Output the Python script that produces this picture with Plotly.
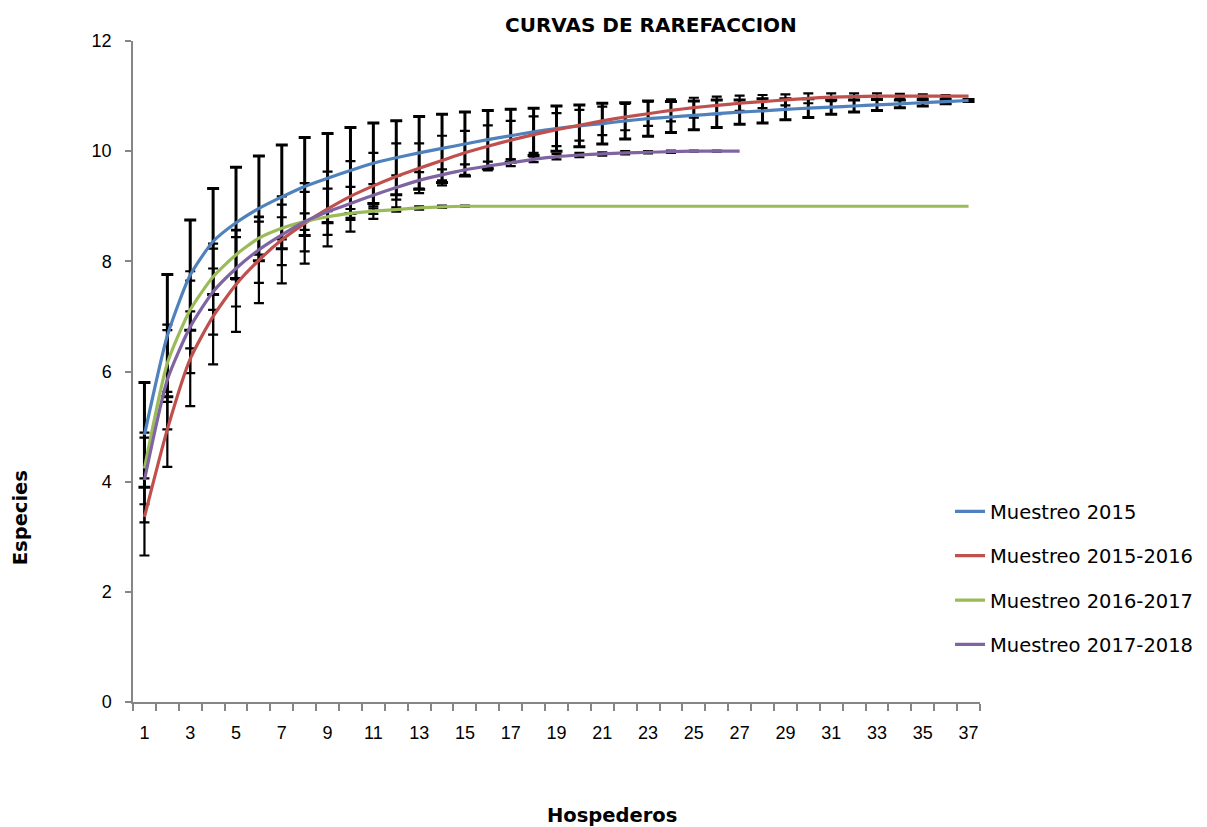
import plotly.graph_objects as go

# ---------------- data ----------------
hospederos = list(range(1, 38))
x_tick_labels = [str(i) for i in range(1, 38, 2)]
y_ticks = [0, 2, 4, 6, 8, 10, 12]

series_names = ["Muestreo 2015", "Muestreo 2015-2016", "Muestreo 2016-2017", "Muestreo 2017-2018"]

m2015 = [4.85, 6.65, 7.75, 8.36, 8.70, 8.96, 9.17, 9.36, 9.51, 9.65,
         9.78, 9.88, 9.97, 10.05, 10.13, 10.21, 10.28, 10.35, 10.41, 10.46,
         10.50, 10.55, 10.59, 10.62, 10.65, 10.68, 10.71, 10.73, 10.76, 10.78,
         10.80, 10.82, 10.84, 10.86, 10.88, 10.90, 10.92]
sd2015 = [0.95, 1.11, 1.00, 0.96, 1.01, 0.95, 0.94, 0.89, 0.81, 0.78,
          0.73, 0.67, 0.66, 0.62, 0.58, 0.53, 0.48, 0.43, 0.41, 0.38,
          0.37, 0.33, 0.32, 0.28, 0.26, 0.25, 0.22, 0.22, 0.19, 0.17,
          0.13, 0.11, 0.10, 0.07, 0.06, 0.04, 0.02]

m2015_16 = [3.36, 4.95, 6.23, 7.00, 7.58, 8.02, 8.39, 8.69, 8.95, 9.18,
            9.37, 9.54, 9.69, 9.83, 9.97, 10.09, 10.20, 10.30, 10.39, 10.47,
            10.55, 10.62, 10.68, 10.74, 10.79, 10.83, 10.87, 10.90, 10.93, 10.96,
            10.98, 10.99, 11.0, 11.0, 11.0, 11.0, 11.0]
sd2015_16 = [0.70, 0.68, 0.86, 0.87, 0.86, 0.78, 0.79, 0.73, 0.68, 0.64,
             0.60, 0.60, 0.45, 0.45, 0.40, 0.38, 0.35, 0.33, 0.30, 0.28,
             0.26, 0.24, 0.22, 0.20, 0.18, 0.16, 0.14, 0.12, 0.10, 0.09,
             0.07, 0.06, 0.05, 0.04, 0.03, 0.02, 0.0]

m2016_17 = [4.24, 6.15, 7.12, 7.72, 8.12, 8.42, 8.60, 8.72, 8.81, 8.87,
            8.91, 8.94, 8.97, 8.99, 9.0, 9.0, 9.0, 9.0, 9.0, 9.0,
            9.0, 9.0, 9.0, 9.0, 9.0, 9.0, 9.0, 9.0, 9.0, 9.0,
            9.0, 9.0, 9.0, 9.0, 9.0, 9.0, 9.0]
sd2016_17 = [0.65, 0.70, 0.70, 0.60, 0.45, 0.30, 0.20, 0.15, 0.10, 0.08,
             0.05, 0.04, 0.03, 0.02, 0.01, 0.0, 0.0, 0.0, 0.0, 0.0,
             0.0, 0.0, 0.0, 0.0, 0.0, 0.0, 0.0, 0.0, 0.0, 0.0,
             0.0, 0.0, 0.0, 0.0, 0.0, 0.0, 0.0]

m2017_18 = [4.03, 5.85, 6.81, 7.45, 7.87, 8.21, 8.48, 8.72, 8.90, 9.05,
            9.20, 9.34, 9.47, 9.57, 9.66, 9.73, 9.79, 9.85, 9.90, 9.93,
            9.95, 9.97, 9.98, 9.99, 10.0, 10.0, 10.0]
sd2017_18 = [0.77, 0.90, 0.84, 0.78, 0.69, 0.60, 0.55, 0.54, 0.42, 0.30,
             0.20, 0.22, 0.15, 0.10, 0.10, 0.08, 0.06, 0.05, 0.05, 0.04,
             0.03, 0.03, 0.02, 0.02, 0.01, 0.01, 0.0]

colors = ["#4F81BD", "#C0504D", "#9BBB59", "#8064A2"]
all_means = [m2015, m2015_16, m2016_17, m2017_18]
all_sds = [sd2015, sd2015_16, sd2016_17, sd2017_18]
bar_thickness = [3, 2.2, 2.2, 2.2]
bar_width = [6, 5, 5, 5]

fig = go.Figure()

# error bars (beneath the curves)
for means, sds, th, wd in zip(all_means, all_sds, bar_thickness, bar_width):
    xs = [h for h, s in zip(hospederos, sds) if s > 0]
    ys = [m for m, s in zip(means, sds) if s > 0]
    es = [s for s in sds if s > 0]
    fig.add_trace(go.Scatter(
        x=xs, y=ys, mode="markers",
        marker=dict(size=2, color="rgba(0,0,0,0)"),
        error_y=dict(type="data", array=es, visible=True, color="black",
                     thickness=th, width=wd),
        showlegend=False, hoverinfo="skip"))

# curves
for i, (name, means, col) in enumerate(zip(series_names, all_means, colors)):
    fig.add_trace(go.Scatter(
        x=hospederos[:len(means)], y=means, mode="lines", name=name,
        line=dict(color=col, width=3.2, shape="spline", smoothing=0.6),
        legendgroup=f"g{i}"))

axis_font = dict(family="Liberation Sans, Arial, sans-serif", size=18, color="#000000")

fig.update_layout(
    width=1207, height=827,
    margin=dict(l=133, r=227, t=41, b=125, autoexpand=False),
    paper_bgcolor="white", plot_bgcolor="white",
    showlegend=True,
    legend=dict(x=0.9646, y=0.3174, xanchor="left", yanchor="top",
                font=dict(family="DejaVu Sans, sans-serif", size=19.5, color="#000000"),
                tracegroupgap=16, bgcolor="rgba(0,0,0,0)"),
    annotations=[
        dict(text="<b>CURVAS DE RAREFACCION</b>", xref="paper", yref="paper",
             x=0.611, y=1, yshift=16, xanchor="center", yanchor="middle", showarrow=False,
             font=dict(family="DejaVu Sans, sans-serif", size=20, color="#000000")),
        dict(text="<b>Hospederos</b>", xref="paper", yref="paper",
             x=0.5655, y=0, yshift=-113, xanchor="center", yanchor="middle", showarrow=False,
             font=dict(family="DejaVu Sans, sans-serif", size=19.5, color="#000000")),
        dict(text="<b>Especies</b>", xref="paper", yref="paper",
             x=0, xshift=-113, y=0.278, xanchor="center", yanchor="middle", showarrow=False,
             textangle=-90,
             font=dict(family="DejaVu Sans, sans-serif", size=19.5, color="#000000")),
    ],
)

fig.update_xaxes(
    range=[0.5, 37.5], showgrid=False, zeroline=False,
    showline=True, linecolor="#868686", linewidth=1.5,
    tickmode="array", tickvals=list(range(1, 38, 2)), ticktext=x_tick_labels,
    ticks="", ticklabelstandoff=14, tickfont=axis_font,
    minor=dict(tickmode="array", tickvals=[h - 0.5 for h in hospederos] + [37.5],
               ticks="outside", ticklen=7, tickcolor="#868686", tickwidth=1.5, showgrid=False),
)
fig.update_yaxes(
    range=[0, 12], showgrid=False, zeroline=False,
    showline=True, linecolor="#868686", linewidth=1.5,
    tickmode="array", tickvals=y_ticks,
    ticks="outside", ticklen=6, tickcolor="#868686", tickwidth=1.5,
    ticklabelstandoff=10, tickfont=axis_font,
)

fig.write_html("out.html")
